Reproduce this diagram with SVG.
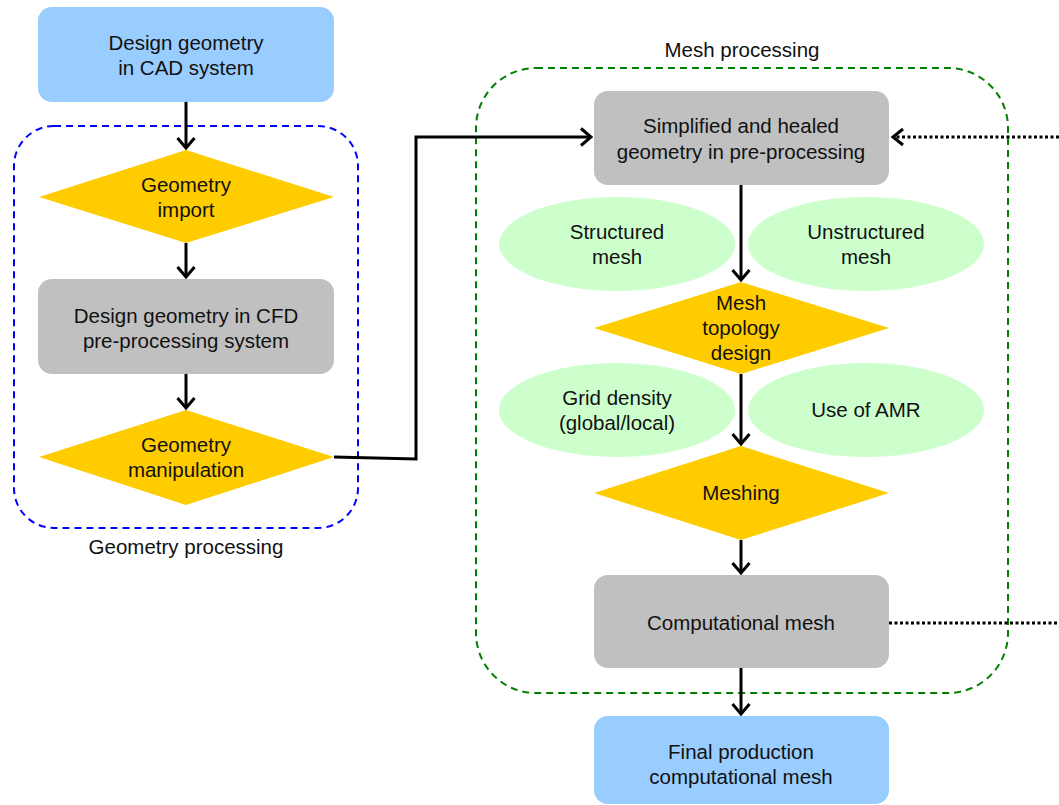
<svg xmlns="http://www.w3.org/2000/svg" width="1059" height="805" viewBox="0 0 1059 805">
<style>
text{font-family:"Liberation Sans",Arial,sans-serif;font-size:20.5px;fill:#111;text-anchor:middle}
.blue{fill:#99ccff}
.gray{fill:#c0c0c0}
.dia{fill:#ffcc00}
.ell{fill:#ccffcc}
.arr{stroke:#000;stroke-width:3;fill:none;marker-end:url(#ah)}
.dot{stroke:#000;stroke-width:3;fill:none;stroke-dasharray:3 2.5}
</style>
<defs>
<marker id="ah" viewBox="0 0 14 20" refX="12" refY="10" markerWidth="14" markerHeight="20" markerUnits="userSpaceOnUse" orient="auto">
<path d="M2,1.5 L12,10 L2,18.5" fill="none" stroke="#000" stroke-width="3"/>
</marker>
</defs>
<rect width="1059" height="805" fill="#fff"/>
<g id="geometry-processing">
<rect x="14" y="126" width="344" height="402" rx="40" fill="none" stroke="#0000ff" stroke-width="2" stroke-dasharray="7 5"/>
<text x="186" y="554">Geometry processing</text>
</g>
<g id="mesh-processing">
<rect x="476" y="68" width="532" height="625" rx="60" fill="none" stroke="#008000" stroke-width="2" stroke-dasharray="7 5"/>
<text x="742" y="57">Mesh processing</text>
</g>
<g id="cad">
<rect class="blue" x="38" y="7" width="296" height="95" rx="14"/>
<text x="186" y="50">Design geometry</text>
<text x="186" y="75">in CAD system</text>
</g>
<g id="geom-import">
<polygon class="dia" points="186,150 334,197 186,243 39,197"/>
<text x="186" y="192">Geometry</text>
<text x="186" y="217">import</text>
</g>
<g id="cfd">
<rect class="gray" x="38" y="279" width="296" height="95" rx="14"/>
<text x="186" y="323">Design geometry in CFD</text>
<text x="186" y="348">pre-processing system</text>
</g>
<g id="geom-manip">
<polygon class="dia" points="186,410 334,457 186,505 39,457"/>
<text x="186" y="452">Geometry</text>
<text x="186" y="477">manipulation</text>
</g>
<g id="simplified">
<rect class="gray" x="594" y="91" width="295" height="94" rx="14"/>
<text x="741" y="133">Simplified and healed</text>
<text x="741" y="159">geometry in pre-processing</text>
</g>
<g id="structured">
<ellipse class="ell" cx="617" cy="244" rx="118" ry="47"/>
<text x="617" y="239">Structured</text>
<text x="617" y="264">mesh</text>
</g>
<g id="unstructured">
<ellipse class="ell" cx="866" cy="244" rx="118" ry="47"/>
<text x="866" y="239">Unstructured</text>
<text x="866" y="264">mesh</text>
</g>
<g id="topology">
<polygon class="dia" points="741,282 889,328 741,374 594,328"/>
<text x="741" y="310">Mesh</text>
<text x="741" y="335">topology</text>
<text x="741" y="360">design</text>
</g>
<g id="grid-density">
<ellipse class="ell" cx="617" cy="410" rx="118" ry="47"/>
<text x="617" y="405">Grid density</text>
<text x="617" y="430">(global/local)</text>
</g>
<g id="amr">
<ellipse class="ell" cx="866" cy="410" rx="118" ry="47"/>
<text x="866" y="417">Use of AMR</text>
</g>
<g id="meshing">
<polygon class="dia" points="741,446 889,493 741,540 594,493"/>
<text x="741" y="500">Meshing</text>
</g>
<g id="computational">
<rect class="gray" x="594" y="575" width="295" height="93" rx="14"/>
<text x="741" y="630">Computational mesh</text>
</g>
<g id="final">
<rect class="blue" x="594" y="716" width="295" height="88" rx="14"/>
<text x="741" y="759">Final production</text>
<text x="741" y="784">computational mesh</text>
</g>
<g id="connectors">
<line class="arr" x1="186" y1="102" x2="186" y2="148"/>
<line class="arr" x1="186" y1="243" x2="186" y2="277"/>
<line class="arr" x1="186" y1="374" x2="186" y2="408"/>
<polyline class="arr" points="334,457 416,459 416,137 591,137"/>
<line class="arr" x1="741" y1="185" x2="741" y2="280"/>
<line class="arr" x1="741" y1="374" x2="741" y2="444"/>
<line class="arr" x1="741" y1="540" x2="741" y2="573"/>
<line class="arr" x1="741" y1="668" x2="741" y2="714"/>
<line class="dot" x1="1059" y1="137" x2="894" y2="137"/>
<path d="M903,129 L893,137 L903,145" fill="none" stroke="#000" stroke-width="3"/>
<line class="dot" x1="889" y1="623" x2="1059" y2="623"/>
</g>
</svg>
